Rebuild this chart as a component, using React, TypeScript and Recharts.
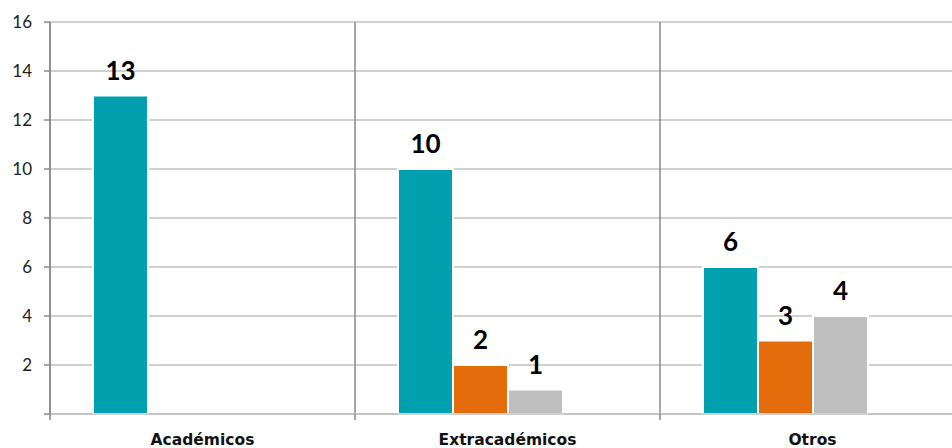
import React from "react";
import { BarChart, Bar, XAxis, YAxis, CartesianGrid, LabelList } from "recharts";

// categorías y series
const categories = ["Académicos", "Extracadémicos", "Otros"];
const serie1: (number | null)[] = [13, 10, 6];
const serie2: (number | null)[] = [null, 2, 3];
const serie3: (number | null)[] = [null, 1, 4];
const serie4: (number | null)[] = [null, null, null];
const yTicks = [0, 2, 4, 6, 8, 10, 12, 14, 16];

const data = categories.map((name, i) => ({
  name,
  s1: serie1[i],
  s2: serie2[i],
  s3: serie3[i],
  s4: serie4[i],
}));

const FONT = "Lato, 'DejaVu Sans', sans-serif";

const labelFormatter = (v: any) => (v === null || v === undefined ? "" : v);

const XTick = (props: any) => {
  const { x, y, payload } = props;
  const left = x - (payload.offset || 0);
  return (
    <g>
      <line x1={left} x2={left} y1={414} y2={420} stroke="#868686" strokeWidth={1.5} />
      <text
        x={x}
        y={y + 23}
        textAnchor="middle"
        fontFamily="'DejaVu Sans', sans-serif"
        fontWeight={700}
        fontSize={15.5}
        fill="#111"
      >
        {payload.value}
      </text>
    </g>
  );
};

export default function App() {
  return (
    <div style={{ position: "absolute", left: 0, top: 0, width: 952, height: 448, overflow: "hidden", background: "#fff" }}>
      <BarChart
        width={980}
        height={448}
        data={data}
        margin={{ top: 22, right: 15, left: 0, bottom: 0 }}
        barCategoryGap={43}
        barGap={0}
      >
        <CartesianGrid vertical={false} stroke="#c0c0c0" strokeWidth={1.5} />
        <CartesianGrid
          horizontal={false}
          stroke="#8a8a8a"
          strokeWidth={1.5}
          verticalCoordinatesGenerator={({ offset }: any) =>
            categories.map((_, i) => offset.left + (i * offset.width) / categories.length).concat(offset.left + offset.width)
          }
        />
        <XAxis
          dataKey="name"
          height={34}
          axisLine={{ stroke: "#c0c0c0", strokeWidth: 1.5 }}
          tickLine={false}
          tick={<XTick />}
          interval={0}
        />
        <YAxis
          width={50}
          domain={[0, 16]}
          ticks={yTicks}
          interval={0}
          tickFormatter={(v: number) => (v === 0 ? "" : String(v))}
          axisLine={{ stroke: "#8a8a8a", strokeWidth: 1.5 }}
          tickLine={{ stroke: "#8a8a8a", strokeWidth: 1.5 }}
          tickSize={6}
          tickMargin={12}
          tick={{ fontFamily: FONT, fontSize: 17, fill: "#222" }}
        />
        <Bar dataKey="s1" fill="#00A0AE" stroke="#ffffff" strokeWidth={2} isAnimationActive={false}>
          <LabelList dataKey="s1" position="top" offset={16} formatter={labelFormatter} style={{ fontFamily: FONT, fontWeight: 700, fontSize: 26, fill: "#000" }} />
        </Bar>
        <Bar dataKey="s2" fill="#E46C0A" stroke="#ffffff" strokeWidth={2} isAnimationActive={false}>
          <LabelList dataKey="s2" position="top" offset={16} formatter={labelFormatter} style={{ fontFamily: FONT, fontWeight: 700, fontSize: 26, fill: "#000" }} />
        </Bar>
        <Bar dataKey="s3" fill="#BFBFBF" stroke="#ffffff" strokeWidth={2} isAnimationActive={false}>
          <LabelList dataKey="s3" position="top" offset={16} formatter={labelFormatter} style={{ fontFamily: FONT, fontWeight: 700, fontSize: 26, fill: "#000" }} />
        </Bar>
        <Bar dataKey="s4" fill="#7F7F7F" stroke="#ffffff" strokeWidth={2} isAnimationActive={false} />
      </BarChart>
    </div>
  );
}
